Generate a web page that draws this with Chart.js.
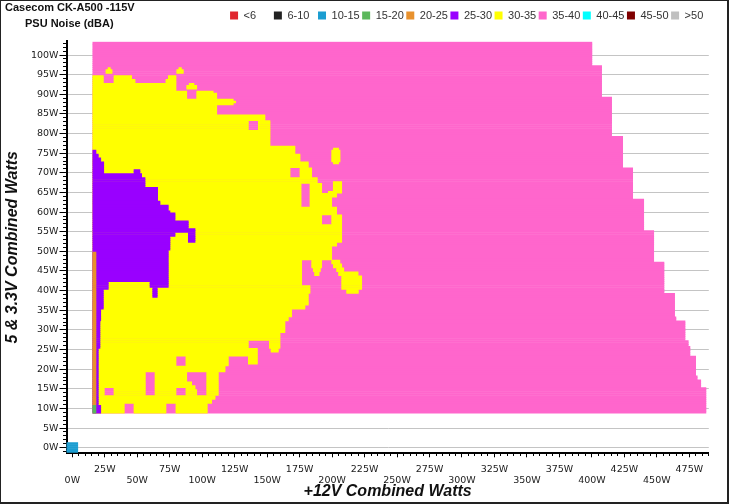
<!DOCTYPE html>
<html><head><meta charset="utf-8">
<script src="https://cdn.jsdelivr.net/npm/chart.js@4/dist/chart.umd.min.js"></script>
<style>
html,body{margin:0;padding:0;background:#fff;}
#wrap{position:relative;width:729px;height:504px;overflow:hidden;background:#fff;}
#c{position:absolute;left:0;top:0;}
.t{position:absolute;font-family:'Liberation Sans',Arial,sans-serif;font-weight:bold;font-size:11px;line-height:11px;color:#111;white-space:nowrap;}
#frame{position:absolute;left:0;top:0;width:729px;height:504px;box-sizing:border-box;border-left:1px solid #222;border-top:1px solid #222;border-right:2px solid #222;border-bottom:2px solid #222;pointer-events:none;}
</style></head><body>
<div id="wrap">
<canvas id="c" width="729" height="504"></canvas>
<div class="t" style="left:5px;top:2.4px">Casecom CK-A500 -115V</div>
<div class="t" style="left:25px;top:18px">PSU Noise (dBA)</div>
<div id="frame"></div>
</div>
<script>
// Noise bands (dBA) shown in the legend
const noiseBands = ['<6','6-10','10-15','15-20','20-25','25-30','30-35','35-40','40-45','45-50','>50'];
const bandColors = ['#e0262e','#222222','#1b9dd1','#5cb85c','#e8912d','#9900ff','#ffff00','#ff66cc','#00ffff','#7f0000','#c0c0c0'];

// Heat-map cells per band: [x0, x1] = +12V watts, [y0, y1] = 5V & 3.3V watts
const cellsLt6 = [];
const cells6to10 = [];
const cells10to15 = [[-4.5, 4.2, -1.2, 1.3]];
const cells15to20 = [[15.8, 18.2, 8.8, 10.8]];
const cells20to25 = [[15.8, 18.2, 10.8, 49.8]];
const cells25to30 = [
  [15.8,18.2,74.8,75.8],[15.8,20.0,73.8,74.8],[15.8,21.9,72.8,73.8],[15.8,24.2,69.8,72.8],
  [47.5,52.1,69.8,70.8],[15.8,53.4,68.8,69.8],[15.8,56.0,66.3,68.8],[15.8,65.7,62.8,66.3],
  [15.8,67.5,61.8,62.8],[15.8,73.9,60.3,61.8],[15.8,75.2,59.8,60.3],[15.8,79.1,57.8,59.8],
  [15.8,89.3,55.8,57.8],[15.8,94.5,54.8,55.8],[15.8,79.1,53.8,54.8],[15.8,75.2,52.8,53.8],
  [89.3,94.5,52.3,54.8],[15.8,75.2,50.3,52.8],[15.8,73.9,42.3,50.3],[15.8,27.7,40.3,42.3],
  [59.8,73.9,40.8,42.3],[61.9,65.4,38.3,40.8],[15.8,23.9,35.3,40.3],[15.8,21.9,32.3,35.3],
  [15.8,21.3,25.3,32.3],[15.8,20.0,10.8,25.3],[15.8,21.9,8.8,10.8]
];
const cells30to35 = [
  [25.9,30.6,95.3,96.3],[27.5,29.3,96.3,96.8],[80.4,85.5,95.3,96.3],[82.0,84.0,96.3,96.8],
  [15.8,23.9,93.8,94.8],[32.1,45.7,93.8,94.8],[73.9,79.8,93.8,94.8],
  [15.8,23.9,92.8,93.8],[32.1,48.3,92.8,93.8],[72.1,79.8,92.8,93.8],
  [15.8,79.8,90.8,92.8],[88.1,95.8,91.3,92.3],[90.0,93.7,92.3,92.8],
  [15.8,88.1,90.3,90.8],[95.8,108.5,90.3,90.8],
  [15.8,88.1,88.8,90.3],[95.8,111.2,88.8,90.3],
  [15.8,123.9,87.3,88.8],[123.9,125.8,87.8,88.3],
  [15.8,111.2,84.8,87.3],[15.8,148.3,83.3,84.8],
  [15.8,135.5,80.8,83.3],[143.2,152.2,80.8,83.3],
  [15.8,152.2,76.8,80.8],[15.8,171.4,74.8,76.8],[15.8,175.3,72.8,74.8],
  [201.0,205.0,75.8,76.3],[199.7,206.1,72.8,75.8],[201.0,205.0,72.3,72.8],
  [15.8,181.7,71.3,72.8],[15.8,167.6,68.8,71.3],[175.3,184.3,68.8,71.3],
  [15.8,188.6,67.3,68.8],[200.9,207.4,65.3,67.8],
  [15.8,176.1,64.8,67.3],[183.0,192.0,64.8,67.3],[197.1,207.4,64.8,65.3],
  [15.8,176.1,63.8,64.8],[183.0,203.5,63.8,64.8],
  [15.8,176.1,61.3,63.8],[183.0,199.7,61.3,63.8],
  [15.8,203.5,59.3,61.3],[15.8,192.0,56.8,59.3],[199.7,207.4,56.8,59.3],
  [15.8,207.4,52.3,56.8],[15.8,203.5,51.3,52.3],[15.8,199.7,47.8,51.3],
  [15.8,176.6,46.8,47.8],[184.3,192.0,46.8,47.8],[199.7,206.0,46.8,47.8],
  [15.8,176.6,45.8,46.8],[184.3,192.0,45.8,46.8],[201.0,207.4,45.8,46.8],
  [15.8,176.6,44.8,45.8],[185.5,191.0,44.8,45.8],[203.5,209.0,44.8,45.8],
  [15.8,176.6,43.8,44.8],[186.5,190.0,43.8,44.8],[205.0,220.0,43.8,44.8],
  [15.8,176.6,41.3,43.8],[207.4,222.8,40.3,43.8],[211.2,220.2,39.3,40.3],
  [15.8,183.0,39.3,41.3],[15.8,181.7,36.3,39.3],[15.8,179.1,35.3,36.3],
  [15.8,168.9,33.3,35.3],[15.8,166.3,32.3,33.3],[15.8,163.7,29.3,32.3],
  [15.8,159.9,27.3,29.3],[15.8,135.5,25.3,27.3],[151.7,159.9,25.3,27.3],
  [15.8,142.5,23.3,25.3],[153.0,158.6,24.3,25.3],
  [15.8,79.8,20.8,23.3],[87.5,120.1,20.8,23.3],[135.5,142.5,21.3,23.3],
  [15.8,117.6,19.3,20.8],
  [15.8,56.2,16.8,19.3],[63.7,88.1,16.8,19.3],[103.5,112.4,16.8,19.3],
  [15.8,56.2,15.3,16.8],[63.7,91.9,15.8,16.8],[63.7,94.5,15.3,15.8],[103.5,112.4,15.3,16.8],
  [15.8,24.6,13.3,15.3],[32.1,56.2,13.3,15.3],[63.7,79.8,13.3,15.3],
  [87.5,94.5,14.8,15.3],[87.5,95.8,13.3,14.8],[103.5,112.4,13.3,15.3],
  [15.8,109.9,12.3,13.3],[15.8,107.3,11.3,12.3],
  [15.8,40.0,8.8,11.3],[47.5,72.1,8.8,11.3],[79.8,103.9,8.8,11.3]
];
const cells35to40 = [
  [15.8,400.0,97.3,103.3],[15.8,407.5,89.3,97.3],[15.8,415.2,79.3,89.3],
  [15.8,423.7,71.3,79.3],[15.8,431.4,63.3,71.3],[15.8,439.9,55.3,63.3],
  [15.8,447.6,47.3,55.3],[15.8,455.5,39.3,47.3],[15.8,463.7,33.3,39.3],
  [15.8,464.7,32.3,33.3],[15.8,471.7,27.3,32.3],[15.8,474.2,25.8,27.3],
  [15.8,475.5,23.3,25.8],[15.8,479.9,18.3,23.3],[15.8,481.1,17.3,18.3],
  [15.8,483.8,15.3,17.3],[15.8,487.8,8.8,15.3]
];
const cells40to45 = [];
const cells45to50 = [];
const cellsGt50 = [];

const cellSets = [cellsLt6, cells6to10, cells10to15, cells15to20, cells20to25, cells25to30,
                  cells30to35, cells35to40, cells40to45, cells45to50, cellsGt50];

// one floating bar per 0.5 W row of every cell
const ROW = 0.5, ROW0 = 0.3;
function toBars(cells) {
  const out = [];
  cells.forEach(([x0, x1, y0, y1]) => {
    const r0 = Math.round((y0 - ROW0) / ROW), r1 = Math.round((y1 - ROW0) / ROW);
    for (let r = r0; r < r1; r++) out.push({ x: [x0, x1], y: +(ROW0 + (r + 0.5) * ROW).toFixed(3) });
  });
  return out;
}

const legendGap = {
  id: 'legendGap',
  beforeLayout(chart) {
    const lg = chart.legend;
    if (lg && !lg._gapPatched) {
      const fit = lg.fit;
      lg.fit = function () { fit.apply(this, arguments); this.height += 10.3; };
      lg._gapPatched = true;
    }
  }
};

const tickFont = { family: "'DejaVu Sans', sans-serif", size: 9.5, lineHeight: 1.2 };
const titleFont = { family: "'Liberation Sans', Arial, sans-serif", size: 16, weight: 'bold', style: 'italic' };

new Chart(document.getElementById('c'), {
  type: 'bar',
  data: {
    datasets: noiseBands.map((label, i) => ({
      label,
      data: toBars(cellSets[i]),
      backgroundColor: bandColors[i],
      borderWidth: 0,
      grouped: false,
      barPercentage: 1,
      categoryPercentage: 1
    }))
  },
  plugins: [legendGap],
  options: {
    indexAxis: 'y',
    responsive: false,
    animation: false,
    devicePixelRatio: 1,
    events: [],
    layout: { padding: { left: 0, right: 20.2, top: 7.5, bottom: 0 } },
    plugins: {
      tooltip: { enabled: false },
      title: { display: false },
      legend: {
        position: 'top',
        align: 'end',
        labels: {
          boxWidth: 8, boxHeight: 8, padding: 2.5, color: '#333',
          font: { family: "'Liberation Sans', Arial, sans-serif", size: 11 },
          generateLabels(chart) {
            const items = Chart.defaults.plugins.legend.labels.generateLabels(chart);
            const ctx = chart.ctx;
            ctx.save();
            ctx.font = "11px 'Liberation Sans', Arial, sans-serif";
            const target = ctx.measureText('10-15').width;
            items.forEach((it, i) => {
              let t = it.text;
              if (i < items.length - 1) {
                while (ctx.measureText(t + ' ').width <= target + 1.6) t += ' ';
              } else {
                t += ' ';
              }
              it.text = t;
            });
            ctx.restore();
            return items;
          }
        }
      }
    },
    scales: {
      x: {
        type: 'linear',
        min: -4.47, max: 490,
        afterFit(s) { s.height = 50.7; },
        border: { display: true, color: '#000', width: 2 },
        grid: {
          drawOnChartArea: false, drawTicks: true, tickLength: 4, tickColor: '#000', tickWidth: 1,
          tickBorderDash: (c) => (c.tick && c.tick.value % 25 === 0) ? [] : [2, 20],
          tickBorderDashOffset: 0
        },
        ticks: {
          stepSize: 5, autoSkip: false, maxRotation: 0, minRotation: 0, includeBounds: false,
          padding: 6.5, color: '#1a1a1a', font: tickFont,
          callback(v) {
            if (v % 50 === 0) return ['', v + 'W'];
            if (v % 25 === 0) return [v + 'W'];
            return '';
          }
        },
        title: { display: true, text: '+12V Combined Watts', color: '#111', font: titleFont, padding: { top: 0, bottom: 2.4 } }
      },
      y: {
        type: 'linear',
        offset: false,
        min: -1.43, max: 103.5,
        afterFit(s) { s.width = 66.5; },
        border: { display: true, color: '#000', width: 2 },
        grid: {
          offset: false,
          color: (c) => (c.tick && c.tick.value % 5 === 0) ? '#c4c4c4' : 'rgba(0,0,0,0)',
          lineWidth: 1,
          drawTicks: true, tickLength: 7, tickColor: '#000', tickWidth: 1,
          tickBorderDash: (c) => (c.tick && c.tick.value % 5 === 0) ? [] : [3, 20],
          tickBorderDashOffset: (c) => (c.tick && c.tick.value % 5 === 0) ? 0 : 19.5
        },
        ticks: {
          stepSize: 1, autoSkip: false, includeBounds: false, padding: 1,
          color: '#1a1a1a', font: tickFont,
          callback(v) { return v % 5 === 0 ? v + 'W' : ''; }
        },
        title: { display: true, text: '5 & 3.3V Combined Watts', color: '#111', font: titleFont, padding: { top: 3.4, bottom: 0 } }
      }
    }
  }
});
</script>
</body></html>
